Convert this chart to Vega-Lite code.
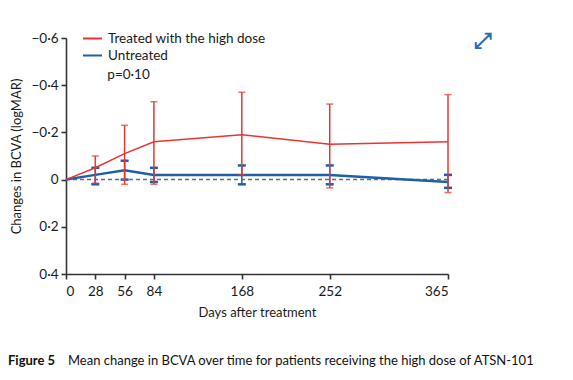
{
  "$schema": "https://vega.github.io/schema/vega-lite/v6.json",
  "width": 382,
  "height": 236,
  "autosize": "none",
  "padding": {"left": 66, "top": 38, "right": 125, "bottom": 106},
  "background": "white",
  "config": {
    "view": {"stroke": null},
    "font": "Lato",
    "axis": {
      "grid": false,
      "domainColor": "#333333",
      "domainWidth": 1.6,
      "tickColor": "#333333",
      "tickWidth": 1.6,
      "tickSize": 5,
      "labelColor": "#1a1a1a",
      "labelFont": "Lato",
      "labelFontSize": 13.5,
      "titleFont": "Lato",
      "titleFontSize": 13,
      "titleFontWeight": "normal",
      "titleColor": "#1a1a1a"
    },
    "legend": {
      "orient": "none",
      "legendX": 16,
      "legendY": -10,
      "title": null,
      "symbolType": "stroke",
      "symbolSize": 361,
      "symbolStrokeWidth": 2,
      "labelFont": "Lato",
      "labelFontSize": 13.5,
      "labelColor": "#1a1a1a",
      "labelOffset": 5,
      "rowPadding": 0,
      "labelLimit": 300
    }
  },
  "datasets": {
    "bcva": [
      {"day": 0, "group": "Treated with the high dose", "mean": 0, "lo": 0, "hi": 0},
      {"day": 28, "group": "Treated with the high dose", "mean": -0.05, "lo": -0.1, "hi": 0.015},
      {"day": 56, "group": "Treated with the high dose", "mean": -0.11, "lo": -0.23, "hi": 0.02},
      {"day": 84, "group": "Treated with the high dose", "mean": -0.16, "lo": -0.33, "hi": 0.02},
      {"day": 168, "group": "Treated with the high dose", "mean": -0.19, "lo": -0.37, "hi": -0.02},
      {"day": 252, "group": "Treated with the high dose", "mean": -0.15, "lo": -0.32, "hi": 0.035},
      {"day": 365, "group": "Treated with the high dose", "mean": -0.16, "lo": -0.36, "hi": 0.055},
      {"day": 0, "group": "Untreated", "mean": 0, "lo": 0, "hi": 0},
      {"day": 28, "group": "Untreated", "mean": -0.02, "lo": -0.05, "hi": 0.02},
      {"day": 56, "group": "Untreated", "mean": -0.04, "lo": -0.08, "hi": 0.0},
      {"day": 84, "group": "Untreated", "mean": -0.02, "lo": -0.05, "hi": 0.01},
      {"day": 168, "group": "Untreated", "mean": -0.02, "lo": -0.06, "hi": 0.02},
      {"day": 252, "group": "Untreated", "mean": -0.02, "lo": -0.06, "hi": 0.02},
      {"day": 365, "group": "Untreated", "mean": 0.01, "lo": -0.02, "hi": 0.035}
    ],
    "notes": [
      {"day": 39.5, "y": -0.443, "t": "p=0·10"}
    ],
    "caption_bold": [
      {"day": -55.4, "y": 0.77, "t": "Figure 5"}
    ],
    "caption": [
      {"day": 1.9, "y": 0.77, "t": "Mean change in BCVA over time for patients receiving the high dose of ATSN-101"}
    ],
    "icon": [
      {"day": 398, "y": -0.588, "t": "⤢"}
    ]
  },
  "layer": [
    {
      "data": {"name": "bcva"},
      "transform": [{"filter": "datum.group === 'Untreated' && datum.day > 0"}],
      "mark": {"type": "rule", "color": "#1f5ea8", "strokeWidth": 1.5},
      "encoding": {
        "x": {
          "field": "day",
          "type": "quantitative",
          "scale": {"domain": [0, 365], "nice": false},
          "axis": {
            "values": [0, 28, 56, 84, 168, 252, 365],
            "title": "Days after treatment",
            "labelPadding": 5,
            "titlePadding": 9
          }
        },
        "y": {
          "field": "lo",
          "type": "quantitative",
          "title": "Changes in BCVA (logMAR)",
          "scale": {"domain": [-0.6, 0.4], "reverse": true, "nice": false, "zero": false},
          "axis": {
            "values": [-0.6, -0.4, -0.2, 0, 0.2, 0.4],
            "labelExpr": "datum.value == 0 ? '0' : replace(replace(format(datum.value, '.1f'), '-', '−'), '.', '·')",
            "labelPadding": 3,
            "titlePadding": 7
          }
        },
        "y2": {"field": "hi"}
      }
    },
    {
      "data": {"name": "bcva"},
      "transform": [{"filter": "datum.group === 'Untreated' && datum.day > 0"}, {"fold": ["lo", "hi"], "as": ["end", "val"]}],
      "mark": {"type": "tick", "color": "#1f5ea8", "size": 8, "thickness": 2.5, "orient": "horizontal", "opacity": 1},
      "encoding": {
        "x": {"field": "day", "type": "quantitative"},
        "y": {"field": "val", "type": "quantitative", "title": "Changes in BCVA (logMAR)"}
      }
    },
    {
      "data": {"values": [{"v": 0}]},
      "mark": {"type": "rule", "strokeDash": [4, 3], "color": "#5f6f70", "strokeWidth": 1.5},
      "encoding": {
        "y": {"field": "v", "type": "quantitative", "title": "Changes in BCVA (logMAR)"}
      }
    },
    {
      "data": {"name": "bcva"},
      "transform": [{"filter": "datum.group === 'Untreated'"}],
      "mark": {"type": "line", "strokeWidth": 2.5},
      "encoding": {
        "x": {"field": "day", "type": "quantitative"},
        "y": {"field": "mean", "type": "quantitative", "title": "Changes in BCVA (logMAR)"},
        "color": {
          "field": "group",
          "type": "nominal",
          "scale": {"domain": ["Treated with the high dose", "Untreated"], "range": ["#ea3430", "#1f5ea8"]}
        }
      }
    },
    {
      "data": {"name": "bcva"},
      "transform": [{"filter": "datum.group !== 'Untreated'"}],
      "mark": {"type": "line", "strokeWidth": 1.5},
      "encoding": {
        "x": {"field": "day", "type": "quantitative"},
        "y": {"field": "mean", "type": "quantitative", "title": "Changes in BCVA (logMAR)"},
        "color": {"field": "group", "type": "nominal"}
      }
    },
    {
      "data": {"name": "bcva"},
      "transform": [{"filter": "datum.group !== 'Untreated' && datum.day > 0"}],
      "mark": {"type": "errorbar", "color": "#ea3430", "thickness": 1.5, "ticks": {"size": 7, "thickness": 1.5, "color": "#ea3430"}},
      "encoding": {
        "x": {"field": "day", "type": "quantitative"},
        "y": {"field": "lo", "type": "quantitative", "title": "Changes in BCVA (logMAR)"},
        "y2": {"field": "hi"}
      }
    },
    {
      "data": {"name": "notes"},
      "mark": {"type": "text", "align": "left", "baseline": "middle", "fontSize": 13.5, "color": "#1a1a1a", "font": "Lato"},
      "encoding": {
        "x": {"field": "day", "type": "quantitative"},
        "y": {"field": "y", "type": "quantitative"},
        "text": {"field": "t"}
      }
    },
    {
      "data": {"name": "caption_bold"},
      "mark": {"type": "text", "align": "left", "baseline": "middle", "fontSize": 13, "fontWeight": "bold", "color": "#111111", "font": "Lato", "clip": false},
      "encoding": {
        "x": {"field": "day", "type": "quantitative"},
        "y": {"field": "y", "type": "quantitative"},
        "text": {"field": "t"}
      }
    },
    {
      "data": {"name": "caption"},
      "mark": {"type": "text", "align": "left", "baseline": "middle", "fontSize": 13, "color": "#111111", "font": "Lato", "clip": false},
      "encoding": {
        "x": {"field": "day", "type": "quantitative"},
        "y": {"field": "y", "type": "quantitative"},
        "text": {"field": "t"}
      }
    },
    {
      "data": {"name": "icon"},
      "mark": {"type": "text", "align": "center", "baseline": "middle", "fontSize": 22, "fontWeight": "bold", "color": "#2a6db5", "font": "DejaVu Sans", "clip": false},
      "encoding": {
        "x": {"field": "day", "type": "quantitative"},
        "y": {"field": "y", "type": "quantitative"},
        "text": {"field": "t"}
      }
    }
  ],
  "resolve": {"scale": {"y": "shared", "x": "shared"}}
}
